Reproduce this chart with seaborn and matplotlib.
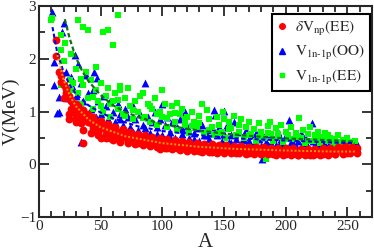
import matplotlib
matplotlib.use("Agg")
import seaborn as sns
import matplotlib.pyplot as plt
from matplotlib.ticker import MultipleLocator

# delta V_np (EE) - red circles
red_A = [14, 14, 18, 18, 20, 22, 24, 24, 26, 28, 28, 30, 32, 32, 34, 36, 36, 38, 40, 40,
         42, 44, 46, 48, 50, 50, 52, 54, 56, 58, 58, 60, 62, 64, 66, 68, 70, 70, 72, 74,
         76, 78, 80, 82, 84, 86, 88, 90, 92, 94, 96, 98, 98, 100, 102, 104, 106, 108, 110, 112,
         114, 116, 118, 120, 122, 124, 126, 128, 130, 132, 134, 136, 138, 140, 142, 144, 146, 148, 150, 152,
         154, 156, 158, 160, 162, 164, 166, 168, 170, 172, 174, 176, 178, 180, 182, 184, 186, 188, 190, 192,
         194, 196, 198, 200, 202, 204, 206, 208, 210, 212, 214, 216, 218, 220, 222, 224, 226, 228, 230, 232,
         234, 236, 238, 240, 242, 244, 246, 248, 250, 252, 254, 256, 258,
         20, 26, 30, 34, 44, 48, 54, 60, 64, 72, 80, 88, 96, 104, 112, 120, 130, 140, 150, 160,
         170, 180, 190, 200, 210, 220, 230, 240, 250,
         16, 22, 26, 30, 36, 40, 44, 50, 56, 62, 68, 74, 80, 86, 92, 98, 104, 110, 116, 122,
         128, 134, 140, 146, 152, 158, 164, 170, 176, 182, 188, 194, 200, 206, 212, 218, 224, 230, 236, 242,
         248, 254,
         24, 30, 36, 42, 48, 54, 60, 66, 72, 78, 84, 90, 96, 102, 108, 114, 120, 126, 132, 138,
         144, 150, 156, 162, 168, 174, 180, 186, 192, 198, 204, 210, 216, 222, 228, 234, 240, 246, 252, 258]
red_V = [2.36, 2.06, 1.68, 1.56, 1.50, 1.42, 0.86, 1.30, 1.22, 1.15, 1.00, 1.05, 0.95, 1.10, 0.90, 0.40, 0.98, 0.85, 0.92, 0.80,
         0.78, 0.85, 0.72, 0.80, 0.70, 0.49, 0.68, 0.75, 0.62, 0.49, 0.66, 0.70, 0.58, 0.62, 0.55, 0.60, 0.52, 0.62, 0.50, 0.56,
         0.48, 0.55, 0.50, 0.45, 0.52, 0.44, 0.48, 0.42, 0.47, 0.40, 0.45, 0.28, 0.42, 0.38, 0.44, 0.36, 0.40, 0.34, 0.40, 0.35,
         0.38, 0.32, 0.37, 0.33, 0.38, 0.30, 0.35, 0.31, 0.36, 0.30, 0.34, 0.28, 0.33, 0.30, 0.35, 0.27, 0.32, 0.29, 0.33, 0.28,
         0.31, 0.26, 0.30, 0.28, 0.32, 0.26, 0.30, 0.27, 0.31, 0.25, 0.29, 0.26, 0.30, 0.24, 0.28, 0.25, 0.29, 0.23, 0.27, 0.24,
         0.28, 0.22, 0.26, 0.23, 0.27, 0.21, 0.25, 0.20, 0.24, 0.22, 0.26, 0.21, 0.25, 0.22, 0.26, 0.20, 0.24, 0.21, 0.25, 0.23,
         0.26, 0.22, 0.27, 0.24, 0.28, 0.30, 0.26, 0.32, 0.27, 0.30, 0.25, 0.29, 0.31,
         1.25, 1.05, 0.88, 0.78, 0.68, 0.62, 0.58, 0.52, 0.50, 0.44, 0.40, 0.38, 0.34, 0.31, 0.30, 0.28, 0.26, 0.24, 0.24, 0.22,
         0.21, 0.20, 0.19, 0.19, 0.18, 0.18, 0.19, 0.20, 0.22,
         1.75, 1.35, 1.20, 1.15, 1.02, 0.95, 0.90, 0.82, 0.76, 0.70, 0.66, 0.62, 0.58, 0.55, 0.52, 0.50, 0.48, 0.46, 0.44, 0.42,
         0.40, 0.39, 0.38, 0.37, 0.36, 0.35, 0.34, 0.33, 0.33, 0.32, 0.31, 0.31, 0.30, 0.30, 0.29, 0.29, 0.29, 0.30, 0.31, 0.33,
         0.35, 0.33,
         0.95, 0.80, 0.65, 0.60, 0.55, 0.50, 0.46, 0.42, 0.40, 0.38, 0.36, 0.34, 0.33, 0.30, 0.28, 0.27, 0.26, 0.25, 0.24, 0.23,
         0.22, 0.22, 0.21, 0.21, 0.20, 0.20, 0.19, 0.19, 0.18, 0.18, 0.17, 0.17, 0.17, 0.17, 0.18, 0.18, 0.19, 0.20, 0.21, 0.22]

# V_1n-1p (OO) - blue triangles
blue_A = [11, 20, 19, 12, 12, 16, 16, 15, 22, 29, 32, 26, 28, 30, 34, 34, 36, 38, 40, 42,
          44, 45, 47, 48, 50, 52, 54, 56, 58, 60, 62, 64, 66, 68, 70, 72, 74, 76, 78, 80,
          82, 84, 86, 88, 90, 92, 94, 96, 98, 100, 100, 102, 104, 106, 108, 110, 112, 114, 116, 118,
          120, 122, 124, 126, 128, 130, 132, 134, 136, 138, 140, 142, 143, 144, 146, 148, 150, 150, 152, 154,
          156, 158, 160, 162, 164, 166, 168, 170, 172, 174, 176, 178, 180, 181, 182, 184, 186, 188, 190, 192,
          194, 196, 198, 200, 203, 204, 206, 208, 210, 212, 214, 216, 218, 221, 222, 224, 226, 228, 230, 232,
          234, 236, 238, 240, 242, 244, 246, 248, 250, 252, 254, 256, 257, 258,
          24, 36, 46, 56, 66, 76, 86, 96, 106, 116, 126, 136, 146, 156, 166, 176, 186, 196, 206, 216,
          226, 236, 246, 256]
blue_V = [2.88, 2.67, 2.50, 1.94, 1.50, 1.28, 1.00, 0.97, 1.75, 2.07, 1.91, 1.65, 1.45, 1.30, 0.42, 1.55, 1.20, 1.70, 1.35, 1.05,
          1.40, 1.75, 1.63, 1.20, 0.95, 1.30, 1.10, 0.85, 1.20, 1.00, 0.80, 1.15, 0.95, 0.75, 1.05, 0.90, 0.70, 1.10, 0.85, 0.65,
          0.95, 0.75, 1.55, 0.90, 0.60, 0.80, 1.00, 0.70, 0.85, 1.14, 0.55, 0.75, 0.90, 0.62, 0.80, 0.50, 0.70, 0.85, 0.58, 1.00,
          0.72, 0.50, 0.78, 0.60, 0.68, 0.45, 0.75, 0.55, 0.65, 0.48, 0.70, 1.03, 0.93, 0.55, 0.62, 0.45, 1.01, 0.58, 0.70, 0.42,
          0.55, 0.81, 0.48, 0.62, 0.40, 0.52, 0.65, 0.45, 0.55, 0.38, 0.60, 0.48, 0.35, 0.10, 0.52, 0.42, 0.58, 0.40, 0.50, 0.36,
          0.62, 0.45, 0.38, 0.55, 0.84, 0.42, 0.50, 0.35, 0.45, 0.60, 0.40, 0.52, 0.32, 0.79, 0.45, 0.38, 0.50, 0.30, 0.42, 0.36,
          0.48, 0.32, 0.40, 0.28, 0.38, 0.34, 0.26, 0.40, 0.32, 0.36, 0.28, 0.38, 0.43, 0.30,
          1.25, 1.00, 0.90, 0.72, 0.85, 0.62, 0.68, 0.58, 0.52, 0.66, 0.48, 0.55, 0.70, 0.40, 0.46, 0.52, 0.36, 0.48, 0.40, 0.44,
          0.34, 0.42, 0.36, 0.33]

# V_1n-1p (EE) - green squares
green_A = [10, 11, 18, 21, 18, 26, 32, 36, 40, 52, 56, 64, 60, 46, 18, 25, 20, 22, 24, 28,
           30, 32, 34, 36, 38, 40, 42, 44, 46, 48, 50, 52, 54, 56, 58, 60, 62, 64, 66, 66,
           68, 70, 72, 74, 76, 78, 80, 82, 84, 86, 88, 90, 92, 94, 96, 98, 100, 100, 102, 104,
           106, 108, 110, 112, 112, 114, 116, 118, 120, 122, 124, 126, 128, 130, 132, 134, 136, 138, 140, 142,
           144, 146, 148, 149, 150, 152, 154, 156, 158, 160, 162, 164, 166, 168, 170, 172, 174, 176, 178, 180,
           182, 184, 186, 187, 188, 190, 192, 194, 196, 198, 200, 202, 204, 206, 208, 211, 212, 214, 216, 218,
           220, 222, 224, 226, 228, 230, 232, 234, 236, 238, 240, 242, 244, 246, 248, 250, 252, 254, 256,
           26, 34, 44, 50, 58, 64, 70, 76, 84, 90, 96, 104, 110, 118, 124, 130, 138, 146, 154, 162,
           170, 178, 186, 194, 202, 210, 218, 226, 234, 242, 250]
green_V = [2.73, 2.78, 2.45, 2.29, 2.16, 2.10, 2.73, 2.61, 2.55, 2.51, 2.55, 2.83, 2.26, 1.85, 1.50, 1.60, 1.95, 1.45, 1.25, 1.55,
           1.80, 1.35, 1.15, 1.50, 1.75, 1.25, 1.60, 1.05, 1.40, 1.20, 1.55, 1.00, 1.30, 1.45, 0.90, 1.20, 1.35, 1.05, 1.40, 1.48,
           0.95, 1.25, 1.44, 1.10, 0.85, 1.20, 1.00, 1.30, 1.36, 0.90, 1.15, 0.80, 1.05, 1.25, 0.75, 1.00, 1.41, 0.90, 1.15, 0.70,
           0.95, 1.10, 0.80, 1.16, 0.65, 0.95, 1.05, 0.75, 0.90, 0.60, 1.00, 0.80, 0.70, 0.92, 1.14, 0.60, 1.03, 0.85, 0.70, 0.55,
           0.90, 0.75, 0.62, 1.00, 0.85, 0.50, 0.80, 0.68, 0.92, 0.55, 0.75, 0.85, 0.50, 0.70, 0.80, 0.58, 0.66, 0.45, 0.78, 0.62,
           0.50, 0.10, 0.72, 0.81, 0.58, 0.45, 0.68, 0.52, 0.75, 0.42, 0.62, 0.55, 0.70, 0.48, 0.60, 0.88, 0.50, 0.65, 0.40, 0.58,
           0.70, 0.45, 0.55, 0.62, 0.40, 0.52, 0.60, 0.45, 0.50, 0.38, 0.48, 0.55, 0.40, 0.46, 0.35, 0.50, 0.42, 0.38, 0.45,
           1.40, 1.62, 1.28, 1.10, 1.15, 1.22, 0.92, 1.02, 0.88, 1.10, 0.95, 0.88, 0.98, 0.85, 0.72, 0.78, 0.65, 0.60, 0.66, 0.62,
           0.55, 0.52, 0.60, 0.58, 0.48, 0.52, 0.45, 0.50, 0.55, 0.42, 0.40]

# fit curves
fit_green_A = [21, 25, 30, 35, 40, 50, 60, 70, 80, 100, 120, 140, 160, 180, 200, 220, 240, 256]
fit_green_V = [2.75, 2.38, 2.02, 1.77, 1.58, 1.31, 1.12, 0.99, 0.90, 0.76, 0.67, 0.61, 0.56, 0.52, 0.49, 0.47, 0.45, 0.43]
fit_blue_A = [11, 15, 20, 25, 30, 40, 50, 60, 80, 100, 130, 160, 200, 240, 256]
fit_blue_V = [2.60, 2.10, 1.75, 1.50, 1.33, 1.12, 0.98, 0.87, 0.72, 0.63, 0.55, 0.49, 0.45, 0.41, 0.40]
fit_orange_A = [15, 20, 25, 30, 40, 50, 70, 100, 130, 160, 200, 240, 256]
fit_orange_V = [2.07, 1.60, 1.30, 1.10, 0.85, 0.70, 0.53, 0.40, 0.33, 0.29, 0.26, 0.24, 0.24]

sns.set_style("ticks")
plt.rcParams['font.family'] = ['Liberation Serif', 'DejaVu Serif']
plt.rcParams['mathtext.fontset'] = 'stix'

fig = plt.figure(figsize=(3.74, 2.52), dpi=100)
ax = fig.add_axes([0.104, 0.139, 0.891, 0.837])

# blue first, green over it, red band on top
pts = dict(linewidth=0, legend=False, zorder=3)
sns.scatterplot(ax=ax, x=blue_A, y=blue_V, marker='^', color='#0000ff', s=32, **pts)
sns.scatterplot(ax=ax, x=green_A, y=green_V, marker='s', color='#00ff00', s=24, **pts)
sns.scatterplot(ax=ax, x=red_A, y=red_V, marker='o', color='#ff0000', s=32, **pts)

sns.lineplot(ax=ax, x=fit_green_A, y=fit_green_V, color='#127012', linewidth=1.6,
             linestyle=(0, (2, 1.2)), zorder=5)
sns.lineplot(ax=ax, x=fit_blue_A, y=fit_blue_V, color='#0000ee', linewidth=1.5,
             linestyle=(0, (2, 1.2)), zorder=5)
sns.lineplot(ax=ax, x=fit_orange_A, y=fit_orange_V, color='#ff9900', linewidth=1.4,
             linestyle=(0, (1, 1)), zorder=5)

ax.set_xlim(0, 270)
ax.set_ylim(-1, 3)
ax.xaxis.set_major_locator(MultipleLocator(50))
ax.xaxis.set_minor_locator(MultipleLocator(10))
ax.yaxis.set_major_locator(MultipleLocator(1))
ax.yaxis.set_minor_locator(MultipleLocator(0.5))
ax.tick_params(which='both', direction='in', top=True, right=True, width=1.3, labelsize=11, pad=2)
ax.tick_params(which='major', length=7)
ax.tick_params(which='minor', length=4)
for sp in ax.spines.values():
    sp.set_linewidth(1.5)

ax.set_xlabel('A', fontsize=15, labelpad=0)
ax.set_ylabel('V(MeV)', fontsize=14, labelpad=0)

h_red = plt.Line2D([], [], marker='o', color='#ff0000', linestyle='', markersize=4)
h_blue = plt.Line2D([], [], marker='^', color='#0000ff', linestyle='', markersize=4)
h_green = plt.Line2D([], [], marker='s', color='#00ff00', linestyle='', markersize=3.5)
leg = ax.legend([h_red, h_blue, h_green],
                ['$\\delta\\mathrm{V}_{\\rm np}\\mathrm{(EE)}$',
                 '$\\mathrm{V}_{\\rm 1n\u20101p}\\mathrm{(OO)}$',
                 '$\\mathrm{V}_{\\rm 1n\u20101p}\\mathrm{(EE)}$'],
                loc='upper right', bbox_to_anchor=(0.994, 0.961), borderaxespad=0, fontsize=11,
                fancybox=False, framealpha=1, edgecolor='black', handlelength=0.8,
                handletextpad=0.45, borderpad=0.3, labelspacing=0.35)
leg.get_frame().set_linewidth(1.5)

plt.savefig('out.png', dpi=100)
